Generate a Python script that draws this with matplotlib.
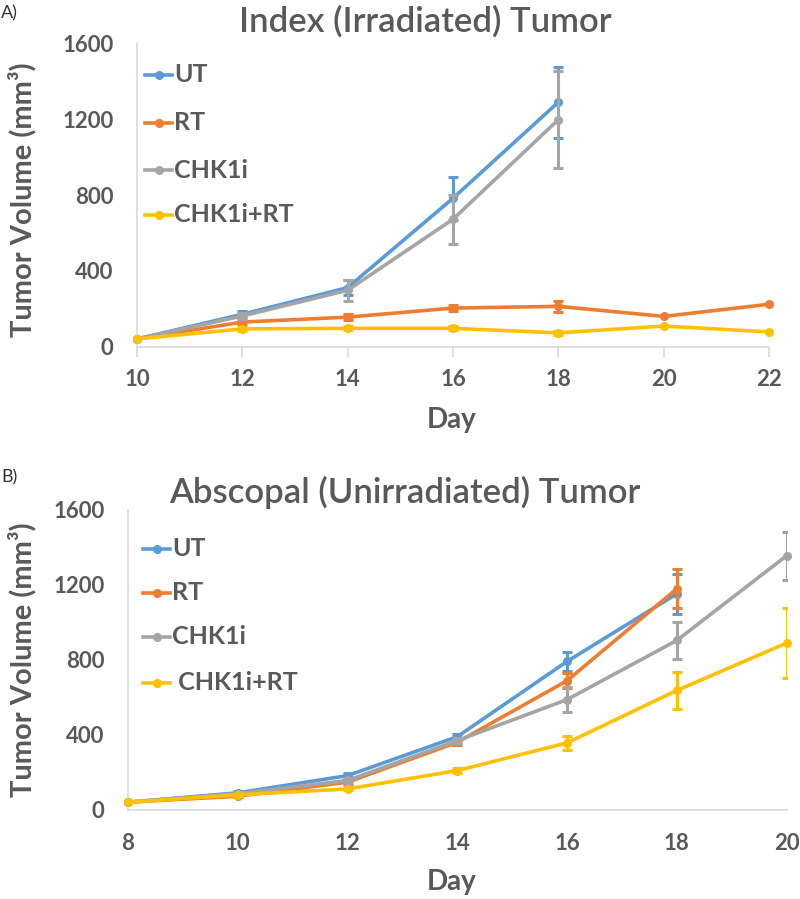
import matplotlib
matplotlib.use('Agg')
import matplotlib.pyplot as plt
import numpy as np

# ---- data ----
groups = ['UT', 'RT', 'CHK1i', 'CHK1i+RT']
colors = ['#5B9BD5', '#ED7D31', '#A5A5A5', '#FFC000']

# panel A: index (irradiated) tumor
daysA = [10, 12, 14, 16, 18, 20, 22]
ut_A = [40, 170, 311, 783, 1290, np.nan, np.nan]
ut_A_err = [0, 15, 40, 114, 187, 0, 0]
rt_A = [40, 129, 155, 203, 212, 159, 223]
rt_A_err = [0, 12, 15, 18, 28, 0, 0]
chk_A = [40, 161, 297, 672, 1198, np.nan, np.nan]
chk_A_err = [0, 15, 55, 130, 258, 0, 0]
combo_A = [40, 93, 96, 96, 72, 108, 77]
combo_A_err = [0, 10, 10, 10, 10, 0, 0]

# panel B: abscopal (unirradiated) tumor
daysB = [8, 10, 12, 14, 16, 18, 20]
ut_B = [39, 89, 181, 389, 791, 1152, np.nan]
ut_B_err = [0, 8, 12, 15, 50, 105, 0]
rt_B = [39, 71, 146, 359, 688, 1179, np.nan]
rt_B_err = [0, 6, 10, 12, 40, 105, 0]
chk_B = [39, 85, 155, 368, 587, 903, 1355]
chk_B_err = [0, 8, 12, 15, 65, 100, 128]
combo_B = [39, 78, 110, 208, 356, 636, 889]
combo_B_err = [0, 6, 8, 15, 38, 98, 185]

txt = '#595959'
axc = '#D9D9D9'
plt.rcParams['font.family'] = ['Lato', 'DejaVu Sans']

fig = plt.figure(figsize=(8, 8.99), dpi=100)
W, H = 800.0, 899.0


def box(left, right, top, bottom):
    return [left / W, 1 - bottom / H, (right - left) / W, (bottom - top) / H]


def draw_panel(ax, days, series, errs, xticks, show_ticks):
    x = np.array(days, dtype=float)
    for ys, es, c in zip(series, errs, colors):
        y = np.array(ys, dtype=float)
        e = np.array(es, dtype=float)
        ax.plot(x, y, color=c, lw=2.6, marker='o', ms=5.5, zorder=3,
                clip_on=False)
        m = (e > 0) & ~np.isnan(y)
        ax.errorbar(x[m], y[m], yerr=e[m], fmt='none', ecolor=c,
                    elinewidth=2.2, capsize=3.5, capthick=2.2, zorder=3)
    ax.set_ylim(0, 1600)
    ax.set_xlim(xticks[0], xticks[-1])
    ax.set_xticks(xticks)
    ax.set_yticks([0, 400, 800, 1200, 1600])
    for s in ['top', 'right']:
        ax.spines[s].set_visible(False)
    for s in ['left', 'bottom']:
        ax.spines[s].set_color(axc)
        ax.spines[s].set_linewidth(1.2)
    ax.tick_params(axis='y', length=0, pad=17, labelsize=16, labelcolor=txt)
    if show_ticks:
        ax.tick_params(axis='x', length=7, width=1.2, color=axc, pad=9,
                       labelsize=16, labelcolor=txt)
    else:
        ax.tick_params(axis='x', length=0, pad=17, labelsize=16, labelcolor=txt)
    for lab in ax.get_xticklabels() + ax.get_yticklabels():
        lab.set_fontweight('bold')


axA = fig.add_axes(box(137, 769, 43.5, 346.5))
draw_panel(axA, daysA, [ut_A, rt_A, chk_A, combo_A],
           [ut_A_err, rt_A_err, chk_A_err, combo_A_err],
           [10, 12, 14, 16, 18, 20, 22], True)

axB = fig.add_axes(box(128, 786.5, 510, 809.5))
draw_panel(axB, daysB, [ut_B, rt_B, chk_B, combo_B],
           [ut_B_err, rt_B_err, chk_B_err, combo_B_err],
           [8, 10, 12, 14, 16, 18, 20], False)


def legend(ys, names, x0):
    for y, name, c in zip(ys, names, colors):
        fy = 1 - y / H
        fig.add_artist(plt.Line2D([x0 / W, (x0 + 27) / W], [fy, fy],
                                  color=c, lw=2.6, transform=fig.transFigure))
        fig.add_artist(plt.Line2D([(x0 + 13.5) / W], [fy], color=c, marker='o',
                                  ms=5.5, transform=fig.transFigure))
        fig.text((x0 + 29) / W, fy, name, color=txt, fontsize=18,
                 fontweight='bold', va='center', ha='left')


legend([75, 123, 170, 215], groups, 145)
legend([549, 593, 637, 683], ['UT', 'RT', 'CHK1i', ' CHK1i+RT'], 143)

# titles, axis labels, panel letters
fig.text(425 / W, 1 - 21 / H, 'Index (Irradiated) Tumor', color=txt,
         fontsize=25, fontweight='semibold', ha='center', va='center')
fig.text(405 / W, 1 - 492 / H, 'Abscopal (Unirradiated) Tumor', color=txt,
         fontsize=25, fontweight='semibold', ha='center', va='center')
fig.text(452 / W, 1 - 420 / H, 'Day', color=txt, fontsize=20,
         fontweight='bold', ha='center', va='center')
fig.text(452 / W, 1 - 882 / H, 'Day', color=txt, fontsize=20,
         fontweight='bold', ha='center', va='center')
fig.text(22 / W, 1 - 200 / H, 'Tumor Volume (mm³)', color=txt, fontsize=21,
         fontweight='bold', ha='center', va='center', rotation=90)
fig.text(22 / W, 1 - 660 / H, 'Tumor Volume (mm³)', color=txt, fontsize=21,
         fontweight='bold', ha='center', va='center', rotation=90)
fig.text(1 / W, 1 - 13 / H, 'A)', color='#333333', fontsize=13,
         ha='left', va='center')
fig.text(1 / W, 1 - 477 / H, 'B)', color='#333333', fontsize=13,
         ha='left', va='center')

fig.savefig('out.png', dpi=100)
